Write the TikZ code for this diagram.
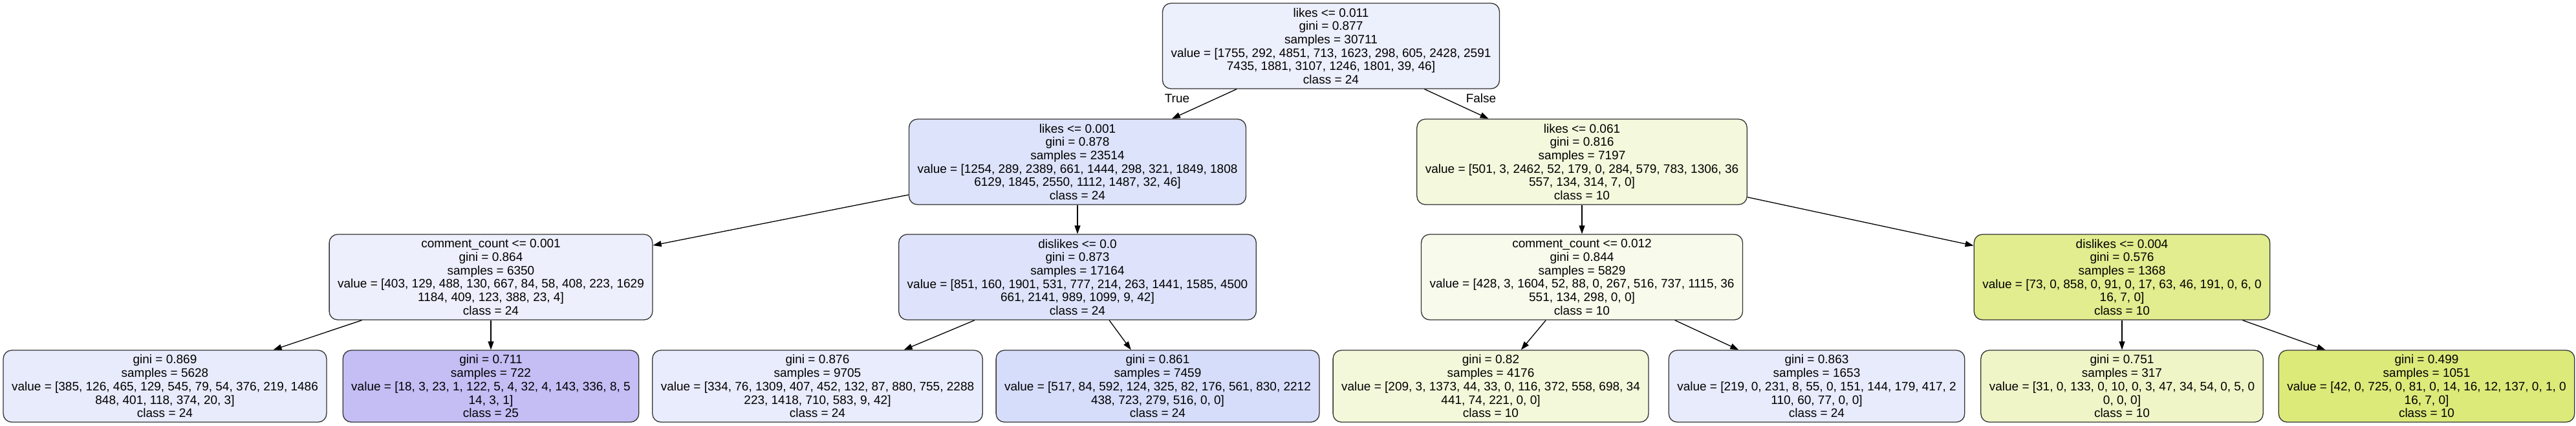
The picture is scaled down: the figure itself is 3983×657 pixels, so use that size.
\documentclass[tikz,border=0pt]{standalone}
\usepackage{fontspec}
\setmainfont{Liberation Sans}
\usepackage{xcolor}
\usepackage{tikz}
\usetikzlibrary{arrows.meta,positioning}
\definecolor{rootfill}{RGB}{236,239,252}
\definecolor{likesAfill}{RGB}{221,227,251}
\definecolor{likesBfill}{RGB}{244,248,220}
\definecolor{commentAfill}{RGB}{237,239,252}
\definecolor{dislikesAfill}{RGB}{222,227,251}
\definecolor{commentBfill}{RGB}{248,250,236}
\definecolor{dislikesBfill}{RGB}{225,237,142}
\definecolor{leafAfill}{RGB}{232,235,252}
\definecolor{leafBfill}{RGB}{196,190,245}
\definecolor{leafCfill}{RGB}{233,236,252}
\definecolor{leafDfill}{RGB}{214,221,250}
\definecolor{leafEfill}{RGB}{244,248,218}
\definecolor{leafFfill}{RGB}{232,235,252}
\definecolor{leafGfill}{RGB}{240,245,200}
\definecolor{leafHfill}{RGB}{220,234,122}
\tikzset{
  splitbox/.style={
    draw=black!80,
    line width=1.3pt,
    rounded corners=13pt,
    align=center,
    font=\fontsize{19}{20.7}\selectfont,
    inner xsep=13pt,
    inner ysep=2pt,
    minimum height=132pt
  },
  leafbox/.style={
    splitbox,
    minimum height=111pt
  },
  branch/.style={-{Triangle[length=13pt,width=9pt]},draw=black,line width=1.3pt},
  branchlabel/.style={font=\fontsize{19}{20.7}\selectfont,inner sep=0pt}
}
\begin{document}
\begin{tikzpicture}[x=1pt,y=-1pt]
\useasboundingbox (0,0) rectangle (3983,657);
\node[splitbox,fill=rootfill] (root) at (2058,71) {likes <= 0.011\\gini = 0.877\\samples = 30711\\value = [1755, 292, 4851, 713, 1623, 298, 605, 2428, 2591\\7435, 1881, 3107, 1246, 1801, 39, 46]\\class = 24};
\node[splitbox,fill=likesAfill] (likesA) at (1666,250) {likes <= 0.001\\gini = 0.878\\samples = 23514\\value = [1254, 289, 2389, 661, 1444, 298, 321, 1849, 1808\\6129, 1845, 2550, 1112, 1487, 32, 46]\\class = 24};
\node[splitbox,fill=likesBfill] (likesB) at (2446,250) {likes <= 0.061\\gini = 0.816\\samples = 7197\\value = [501, 3, 2462, 52, 179, 0, 284, 579, 783, 1306, 36\\557, 134, 314, 7, 0]\\class = 10};
\node[splitbox,fill=commentAfill] (commentA) at (759,428) {comment\_count <= 0.001\\gini = 0.864\\samples = 6350\\value = [403, 129, 488, 130, 667, 84, 58, 408, 223, 1629\\1184, 409, 123, 388, 23, 4]\\class = 24};
\node[splitbox,fill=dislikesAfill] (dislikesA) at (1666,428) {dislikes <= 0.0\\gini = 0.873\\samples = 17164\\value = [851, 160, 1901, 531, 777, 214, 263, 1441, 1585, 4500\\661, 2141, 989, 1099, 9, 42]\\class = 24};
\node[splitbox,fill=commentBfill] (commentB) at (2446,428) {comment\_count <= 0.012\\gini = 0.844\\samples = 5829\\value = [428, 3, 1604, 52, 88, 0, 267, 516, 737, 1115, 36\\551, 134, 298, 0, 0]\\class = 10};
\node[splitbox,fill=dislikesBfill] (dislikesB) at (3281,428) {dislikes <= 0.004\\gini = 0.576\\samples = 1368\\value = [73, 0, 858, 0, 91, 0, 17, 63, 46, 191, 0, 6, 0\\16, 7, 0]\\class = 10};
\node[leafbox,fill=leafAfill] (leafA) at (255,596.5) {gini = 0.869\\samples = 5628\\value = [385, 126, 465, 129, 545, 79, 54, 376, 219, 1486\\848, 401, 118, 374, 20, 3]\\class = 24};
\node[leafbox,fill=leafBfill] (leafB) at (759,596.5) {gini = 0.711\\samples = 722\\value = [18, 3, 23, 1, 122, 5, 4, 32, 4, 143, 336, 8, 5\\14, 3, 1]\\class = 25};
\node[leafbox,fill=leafCfill] (leafC) at (1264,596.5) {gini = 0.876\\samples = 9705\\value = [334, 76, 1309, 407, 452, 132, 87, 880, 755, 2288\\223, 1418, 710, 583, 9, 42]\\class = 24};
\node[leafbox,fill=leafDfill] (leafD) at (1790,596.5) {gini = 0.861\\samples = 7459\\value = [517, 84, 592, 124, 325, 82, 176, 561, 830, 2212\\438, 723, 279, 516, 0, 0]\\class = 24};
\node[leafbox,fill=leafEfill] (leafE) at (2305,596.5) {gini = 0.82\\samples = 4176\\value = [209, 3, 1373, 44, 33, 0, 116, 372, 558, 698, 34\\441, 74, 221, 0, 0]\\class = 10};
\node[leafbox,fill=leafFfill] (leafF) at (2809,596.5) {gini = 0.863\\samples = 1653\\value = [219, 0, 231, 8, 55, 0, 151, 144, 179, 417, 2\\110, 60, 77, 0, 0]\\class = 24};
\node[leafbox,fill=leafGfill] (leafG) at (3281,596.5) {gini = 0.751\\samples = 317\\value = [31, 0, 133, 0, 10, 0, 3, 47, 34, 54, 0, 5, 0\\0, 0, 0]\\class = 10};
\node[leafbox,fill=leafHfill] (leafH) at (3752,596.5) {gini = 0.499\\samples = 1051\\value = [42, 0, 725, 0, 81, 0, 14, 16, 12, 137, 0, 1, 0\\16, 7, 0]\\class = 10};
\node[branchlabel] (truelabel) at (1820,152) {True};
\node[branchlabel] (falselabel) at (2290,152) {False};
\draw[branch] (root)--(likesA);
\draw[branch] (root)--(likesB);
\draw[branch] (likesA)--(commentA);
\draw[branch] (likesA)--(dislikesA);
\draw[branch] (likesB)--(commentB);
\draw[branch] (likesB)--(dislikesB);
\draw[branch] (commentA)--(leafA);
\draw[branch] (commentA)--(leafB);
\draw[branch] (dislikesA)--(leafC);
\draw[branch] (dislikesA)--(leafD);
\draw[branch] (commentB)--(leafE);
\draw[branch] (commentB)--(leafF);
\draw[branch] (dislikesB)--(leafG);
\draw[branch] (dislikesB)--(leafH);
\end{tikzpicture}
\end{document}
